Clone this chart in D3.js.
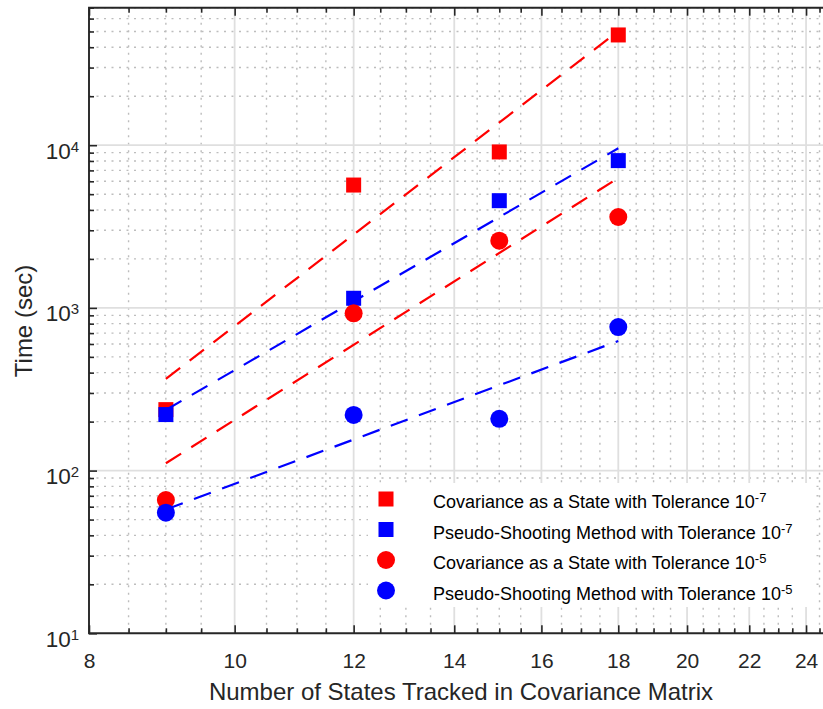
<!DOCTYPE html>
<meta charset="utf-8" />
<script src="https://cdn.jsdelivr.net/npm/d3@7/dist/d3.min.js"></script>
<html>
    <head>
        <title>Run time vs states tracked</title>
        <style>
            body { margin: 0; background: #fff; }
            text { font-family: "Liberation Sans", Arial, Helvetica, sans-serif; fill: #262626; }
        </style>
    </head>
    <body>
        <script>
            // number of states tracked (x)
            var nStates = [9, 12, 15, 18];

            // run times in seconds
            var covState7 = [237, 5690, 9090, 47600];
            var pseudo7 = [221, 1146, 4560, 8040];
            var covState5 = [65.9, 926, 2590, 3620];
            var pseudo5 = [55.1, 220, 208, 763];

            // power-law fit lines (end points)
            var fitX = [9, 18];
            var covState7Fit = [366, 50300];
            var pseudo7Fit = [236, 9575];
            var covState5Fit = [111, 6285];
            var pseudo5Fit = [57.7, 626];

            var xTicks = [8, 10, 12, 14, 16, 18, 20, 22, 24];
            var yTicks = [10, 100, 1000, 10000];

            var legendLabels = [
                "Covariance as a State with Tolerance 10",
                "Pseudo-Shooting Method with Tolerance 10",
                "Covariance as a State with Tolerance 10",
                "Pseudo-Shooting Method with Tolerance 10",
            ];
            var legendExps = ["-7", "-7", "-5", "-5"];

            var series = [
                { vals: covState7, fit: covState7Fit, color: "#ff0000", shape: "square" },
                { vals: pseudo7, fit: pseudo7Fit, color: "#0000ff", shape: "square" },
                { vals: covState5, fit: covState5Fit, color: "#ff0000", shape: "circle" },
                { vals: pseudo5, fit: pseudo5Fit, color: "#0000ff", shape: "circle" },
            ];

            var width = 823,
                height = 709;
            // plot box (right side runs past the picture edge)
            var plotLeft = 89,
                plotTop = 7.7,
                plotBottom = 633.3;

            var x = d3.scaleLog().domain([8, 25]).range([plotLeft, 832.7]);
            var y = d3.scaleLog().domain([10, 70000]).range([plotBottom, plotTop]);

            var xMinor = d3.range(8.5, 25.01, 0.5).filter((d) => xTicks.indexOf(d) < 0);
            var yMinor = y.ticks().filter((d) => yTicks.indexOf(d) < 0);

            var svg = d3
                .select("body")
                .append("svg")
                .attr("width", width)
                .attr("height", height);

            svg.append("rect").attr("width", width).attr("height", height).attr("fill", "#fff");

            // minor grid (dotted)
            var grid = svg.append("g");
            grid.selectAll(".mx")
                .data(xMinor)
                .enter()
                .append("line")
                .attr("x1", (d) => x(d))
                .attr("x2", (d) => x(d))
                .attr("y1", plotTop)
                .attr("y2", plotBottom);
            grid.selectAll(".my")
                .data(yMinor)
                .enter()
                .append("line")
                .attr("x1", plotLeft)
                .attr("x2", width)
                .attr("y1", (d) => y(d))
                .attr("y2", (d) => y(d));
            grid.selectAll("line")
                .attr("stroke", "#bdbdbd")
                .attr("stroke-width", 1.4)
                .attr("stroke-dasharray", "2,5.5");

            // major grid (solid, light)
            var major = svg.append("g");
            major.selectAll(".gx")
                .data(xTicks.slice(1))
                .enter()
                .append("line")
                .attr("x1", (d) => x(d))
                .attr("x2", (d) => x(d))
                .attr("y1", plotTop)
                .attr("y2", plotBottom);
            major.selectAll(".gy")
                .data(yTicks.slice(1))
                .enter()
                .append("line")
                .attr("x1", plotLeft)
                .attr("x2", width)
                .attr("y1", (d) => y(d))
                .attr("y2", (d) => y(d));
            major.selectAll("line").attr("stroke", "#dfdfdf").attr("stroke-width", 1.8);

            // markers
            var marks = svg.append("g");
            series.forEach(function (s) {
                var g = marks.append("g").attr("fill", s.color);
                if (s.shape == "square") {
                    g.selectAll("rect")
                        .data(s.vals)
                        .enter()
                        .append("rect")
                        .attr("x", (d, i) => x(nStates[i]) - 7.5)
                        .attr("y", (d) => y(d) - 7.5)
                        .attr("width", 15)
                        .attr("height", 15);
                } else {
                    g.selectAll("circle")
                        .data(s.vals)
                        .enter()
                        .append("circle")
                        .attr("cx", (d, i) => x(nStates[i]))
                        .attr("cy", (d) => y(d))
                        .attr("r", 9);
                }
            });

            // dashed fit lines
            var line = d3
                .line()
                .x((d, i) => x(fitX[i]))
                .y((d) => y(d));
            series.forEach(function (s) {
                svg.append("path")
                    .attr("d", line(s.fit))
                    .attr("fill", "none")
                    .attr("stroke", s.color)
                    .attr("stroke-width", 2.2)
                    .attr("stroke-dasharray", "18,12");
            });

            // axes, ticks pointing inwards
            var axisColor = "#262626";
            var xAxis = svg
                .append("g")
                .attr("transform", "translate(0," + plotBottom + ")")
                .call(d3.axisBottom(x).tickValues(xTicks).tickSize(-8).tickPadding(20).tickFormat(d3.format("d")));
            svg.append("g")
                .attr("transform", "translate(0," + plotBottom + ")")
                .call(d3.axisBottom(x).tickValues(xMinor).tickSize(-5).tickFormat(""));
            svg.append("g")
                .attr("transform", "translate(0," + plotTop + ")")
                .call(d3.axisTop(x).tickValues(xTicks).tickSize(-8).tickFormat(""));
            svg.append("g")
                .attr("transform", "translate(0," + plotTop + ")")
                .call(d3.axisTop(x).tickValues(xMinor).tickSize(-5).tickFormat(""));
            var yAxis = svg
                .append("g")
                .attr("transform", "translate(" + plotLeft + ",0)")
                .call(d3.axisLeft(y).tickValues(yTicks).tickSize(-8).tickPadding(10).tickFormat(""));
            svg.append("g")
                .attr("transform", "translate(" + plotLeft + ",0)")
                .call(d3.axisLeft(y).tickValues(yMinor).tickSize(-5).tickFormat(""));

            svg.selectAll(".domain").remove();
            svg.selectAll(".tick line").attr("stroke", axisColor).attr("stroke-width", 1.6);
            xAxis.selectAll("text").attr("font-size", 21).attr("fill", axisColor);

            // y labels as 10 with superscript exponent
            yAxis.selectAll(".tick text")
                .attr("font-size", 22.5)
                .attr("fill", axisColor)
                .attr("dy", 13)
                .each(function (d) {
                    var t = d3.select(this);
                    t.append("tspan").text("10");
                    t.append("tspan")
                        .attr("font-size", 15)
                        .attr("dy", -7)
                        .text(Math.round(Math.log10(d)));
                });

            // box lines
            svg.append("path")
                .attr("d", "M" + width + "," + plotTop + "H" + plotLeft + "V" + plotBottom + "H" + width)
                .attr("fill", "none")
                .attr("stroke", axisColor)
                .attr("stroke-width", 1.9);

            // axis labels
            svg.append("text")
                .attr("x", 461)
                .attr("y", 700)
                .attr("text-anchor", "middle")
                .attr("font-size", 24)
                .text("Number of States Tracked in Covariance Matrix");
            svg.append("text")
                .attr("transform", "translate(32,321) rotate(-90)")
                .attr("text-anchor", "middle")
                .attr("font-size", 24)
                .text("Time (sec)");

            // legend
            var legend = svg.append("g");
            legend.append("rect")
                .attr("x", 368)
                .attr("y", 483)
                .attr("width", 444)
                .attr("height", 124)
                .attr("fill", "#fff");
            var rowY = [499, 529.5, 560, 590.5];
            series.forEach(function (s, i) {
                if (s.shape == "square") {
                    legend.append("rect")
                        .attr("x", 386 - 7.5)
                        .attr("y", rowY[i] - 7.5)
                        .attr("width", 15)
                        .attr("height", 15)
                        .attr("fill", s.color);
                } else {
                    legend.append("circle")
                        .attr("cx", 386)
                        .attr("cy", rowY[i])
                        .attr("r", 9)
                        .attr("fill", s.color);
                }
                var t = legend.append("text")
                    .attr("x", 433)
                    .attr("y", rowY[i] + 9)
                    .attr("font-size", 18)
                    .attr("fill", "#000");
                t.append("tspan").attr("fill", "#000").text(legendLabels[i]);
                t.append("tspan")
                    .attr("font-size", 13)
                    .attr("dy", -6)
                    .attr("fill", "#000")
                    .text(legendExps[i]);
            });
        </script>
    </body>
</html>
